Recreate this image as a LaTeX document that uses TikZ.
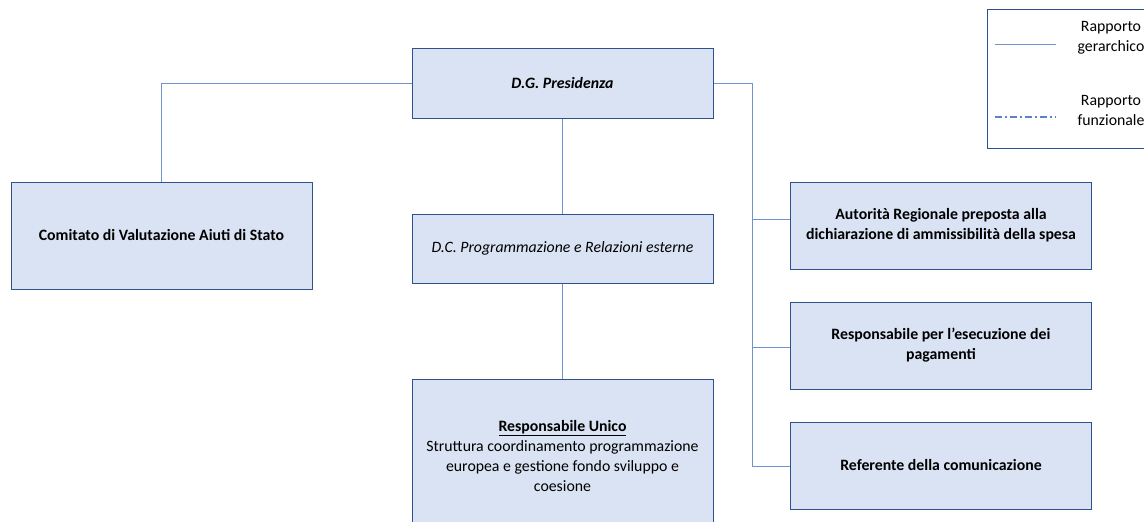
\documentclass[tikz,border=0pt]{standalone}
\usepackage{fontspec}
\setmainfont{Carlito}
\begin{document}
\begin{tikzpicture}[x=1pt,y=-1pt,
  font=\fontsize{15.8}{20}\selectfont,
  orgbox/.style={draw=boxline, fill=boxfill, line width=1pt, rectangle,
    minimum width=301pt, align=center, inner sep=4pt},
  link/.style={draw=linkblue, line width=0.9pt},
  legtext/.style={align=center, font=\fontsize{15.8}{20}\selectfont}]
\definecolor{boxfill}{RGB}{218,227,243}
\definecolor{boxline}{RGB}{47,82,143}
\definecolor{linkblue}{RGB}{112,146,206}
\definecolor{dashblue}{RGB}{90,130,205}
\useasboundingbox (0,0) rectangle (1144,522);

% boxes
\node[orgbox, minimum height=70pt] (dg) at (562.5,83) {\textbf{\textit{D.G. Presidenza}}};
\node[orgbox, minimum height=107pt] (cv) at (161.5,235.5) {\textbf{Comitato di Valutazione Aiuti di Stato}};
\node[orgbox, minimum height=69pt] (dc) at (562.5,248.5) {\textit{D.C. Programmazione e Relazioni esterne}};
\node[orgbox, minimum height=154pt] (ru) at (562.5,456) {\textbf{\underline{Responsabile Unico}}\\Struttura coordinamento programmazione\\europea e gestione fondo sviluppo e\\coesione};
\node[orgbox, minimum height=87pt] (ar) at (941,225.5) {\textbf{Autorità Regionale preposta alla}\\\textbf{dichiarazione di ammissibilità della spesa}};
\node[orgbox, minimum height=87pt] (rp) at (941,345.5) {\textbf{Responsabile per l’esecuzione dei}\\\textbf{pagamenti}};
\node[orgbox, minimum height=87pt] (rc) at (941,465.5) {\textbf{Referente della comunicazione}};

% hierarchy lines
\draw[link] (dg.west) -| (cv.north);
\draw[link] (dg.south) -- (dc.north);
\draw[link] (dc.south) -- (ru.north);
\coordinate (trunk) at (752,83);
\coordinate (b1) at (752,219.5);
\coordinate (b2) at (752,347);
\coordinate (b3) at (752,466);
\draw[link] (dg.east) -- (trunk) -- (b3) -- (b3 -| rc.west);
\draw[link] (b1) -- (b1 -| ar.west);
\draw[link] (b2) -- (b2 -| rp.west);

% legend
\draw[draw=boxline, line width=1pt] (987,9) rectangle (1170,148);
\coordinate (l1a) at (995,44);
\coordinate (l1b) at (1056,44);
\coordinate (l2a) at (995,117);
\coordinate (l2b) at (1056,117);
\draw[draw=linkblue, line width=1pt] (l1a) -- (l1b);
\draw[draw=dashblue, line width=1.3pt, dash pattern=on 7pt off 3pt on 2pt off 3pt] (l2a) -- (l2b);
\node[legtext] (lt1) at (1111,38) {Rapporto\\gerarchico};
\node[legtext] (lt2) at (1111,110) {Rapporto\\funzionale};
\end{tikzpicture}
\end{document}
